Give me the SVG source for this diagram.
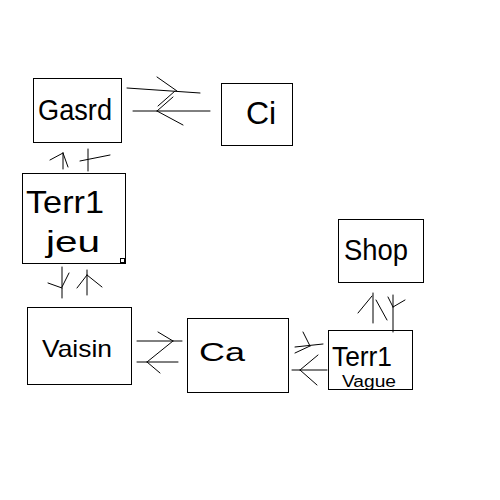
<svg xmlns="http://www.w3.org/2000/svg" width="500" height="500" viewBox="0 0 500 500">
<style>
.box{fill:#fff;stroke:#000;stroke-width:1;shape-rendering:crispEdges}
.ln{fill:none;stroke:#000;stroke-width:1;stroke-linecap:round;stroke-linejoin:round}
.t{font-family:"Liberation Sans",Arial,sans-serif;fill:#000;font-weight:normal}
</style>
<rect x="0" y="0" width="500" height="500" fill="#fff"/>
<g id="node-gard">
<rect class="box" x="33.5" y="78.5" width="88" height="64"/>
<text class="t" x="38" y="120" font-size="30" textLength="74" lengthAdjust="spacingAndGlyphs">Gasrd</text>
</g>
<g id="node-ci">
<rect class="box" x="221.5" y="83.5" width="71" height="62"/>
<text class="t" x="246" y="124" font-size="32">Ci</text>
</g>
<g id="node-terr-jeu">
<rect class="box" x="22.5" y="173.5" width="103" height="90"/>
<rect class="box" x="120.5" y="258.5" width="4" height="4"/>
<text class="t" x="26" y="213" font-size="32" textLength="78" lengthAdjust="spacingAndGlyphs">Terr1</text>
<text class="t" x="46" y="252" font-size="30" textLength="54" lengthAdjust="spacingAndGlyphs">jeu</text>
</g>
<g id="node-voisin">
<rect class="box" x="27.5" y="307.5" width="104" height="77"/>
<text class="t" x="42" y="357" font-size="24" textLength="70" lengthAdjust="spacingAndGlyphs">Vaisin</text>
</g>
<g id="node-ca">
<rect class="box" x="187.5" y="318.5" width="101" height="74"/>
<text class="t" x="199" y="361" font-size="26" textLength="46" lengthAdjust="spacingAndGlyphs">Ca</text>
</g>
<g id="node-shop">
<rect class="box" x="338.5" y="219.5" width="85" height="63"/>
<text class="t" x="344" y="260" font-size="30" textLength="64" lengthAdjust="spacingAndGlyphs">Shop</text>
</g>
<g id="node-terr-vague">
<rect class="box" x="328.5" y="330.5" width="84" height="59"/>
<text class="t" x="332" y="366" font-size="28" textLength="60" lengthAdjust="spacingAndGlyphs">Terr1</text>
<text class="t" x="342" y="387" font-size="16" textLength="54" lengthAdjust="spacingAndGlyphs">Vague</text>
</g>
<g id="connectors">
<!-- Gard <-> Ci -->
<path class="ln" d="M127 88 L200 93"/>
<path class="ln" d="M157 77 L177 91"/>
<path class="ln" d="M158 106 L175 91"/>
<path class="ln" d="M133 111 L210 111"/>
<path class="ln" d="M157 111 L173 97"/>
<path class="ln" d="M157 111 L183 125"/>
<!-- Terr jeu -> Gard, Gard -> Terr jeu -->
<path class="ln" d="M63 153 L63 169"/>
<path class="ln" d="M63 153 L50 160"/>
<path class="ln" d="M63 153 L68 167"/>
<path class="ln" d="M88 149 L88 171"/>
<path class="ln" d="M80 161 L110 155"/>
<!-- Terr jeu <-> Voisin -->
<path class="ln" d="M62 267 L62 298"/>
<path class="ln" d="M48 283 L62 288"/>
<path class="ln" d="M69 273 L62 287"/>
<path class="ln" d="M87 270 L87 295"/>
<path class="ln" d="M87 275 L77 288"/>
<path class="ln" d="M87 275 L102 287"/>
<!-- Voisin <-> Ca -->
<path class="ln" d="M137 341 L182 341"/>
<path class="ln" d="M158 332 L173 341"/>
<path class="ln" d="M173 341 L147 362"/>
<path class="ln" d="M137 362 L178 362"/>
<path class="ln" d="M147 362 L160 373"/>
<!-- Ca <-> Terr vague -->
<path class="ln" d="M295 347 L323 344"/>
<path class="ln" d="M303 332 L310 346"/>
<path class="ln" d="M295 353 L310 346"/>
<path class="ln" d="M292 370 L327 370"/>
<path class="ln" d="M300 370 L318 355"/>
<path class="ln" d="M300 370 L317 385"/>
<!-- Terr vague <-> Shop -->
<path class="ln" d="M373 293 L373 323"/>
<path class="ln" d="M372 296 L358 313"/>
<path class="ln" d="M376 300 L387 320"/>
<path class="ln" d="M393 295 L393 332"/>
<path class="ln" d="M388 297 L393 307"/>
<path class="ln" d="M405 300 L393 307"/>
</g>
</svg>
